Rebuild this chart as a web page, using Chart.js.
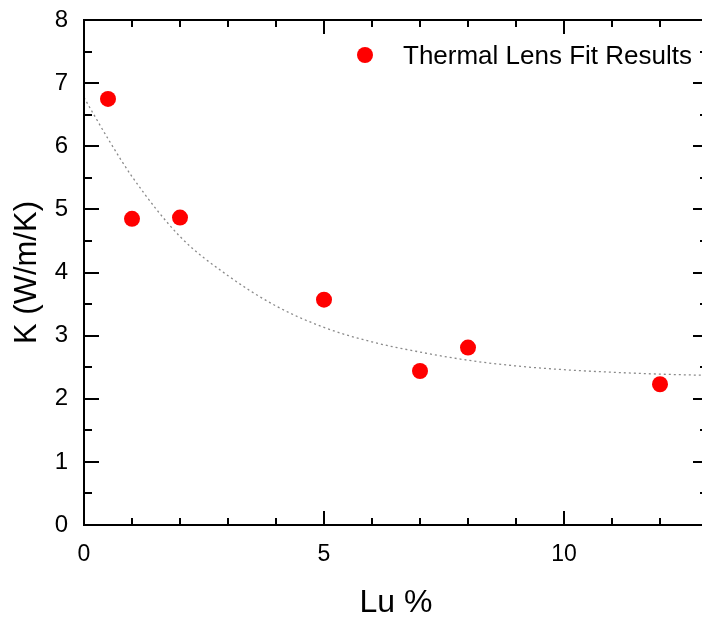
<!DOCTYPE html>
<html>
<head>
<meta charset="utf-8">
<script src="https://cdn.jsdelivr.net/npm/chart.js@4/dist/chart.umd.min.js"></script>
<style>
  html, body { margin: 0; padding: 0; background: #fff; overflow: hidden; }
  #wrap { width: 720px; height: 622px; }
</style>
</head>
<body>
<div id="wrap"><canvas id="c" width="720" height="622"></canvas></div>
<script>
// ---- data ----
const luPercent = [0.5, 1, 2, 5, 7, 8, 12];
const conductivity = [6.75, 4.85, 4.87, 3.57, 2.44, 2.81, 2.23];

const fitX = [0, 0.5, 1, 2, 3, 4, 5, 6, 7, 8, 9, 10, 11, 12, 13];
const fitY = [6.77, 6.12, 5.52, 4.57, 3.95, 3.47, 3.13, 2.90, 2.74, 2.61, 2.52, 2.46, 2.42, 2.39, 2.37];

const xTickValues = [0, 1, 2, 3, 4, 5, 6, 7, 8, 9, 10, 11, 12, 13];
const xTickLabels = ['0', '', '', '', '', '5', '', '', '', '', '10', '', '', ''];
const xMajor = [0, 5, 10];
const yTickValues = [0, 1, 2, 3, 4, 5, 6, 7, 8];
const yTickLabels = ['0', '1', '2', '3', '4', '5', '6', '7', '8'];
const yMinor = [0.5, 1.5, 2.5, 3.5, 4.5, 5.5, 6.5, 7.5];

const seriesLabel = 'Thermal Lens Fit Results';
const xTitle = 'Lu %';
const yTitle = 'K (W/m/K)';

const FONT = "Arial, 'Liberation Sans', Helvetica, sans-serif";

const framePlugin = {
  id: 'frame',
  afterDatasetsDraw(chart) {
    const {ctx, chartArea: a, scales: {x, y}} = chart;
    ctx.save();
    ctx.strokeStyle = '#000';
    ctx.lineWidth = 2;
    ctx.strokeRect(a.left, a.top, a.right - a.left, a.bottom - a.top);
    ctx.beginPath();
    xTickValues.forEach(v => {
      const px = Math.round(x.getPixelForValue(v));
      const len = xMajor.includes(v) ? 14 : 7;
      ctx.moveTo(px, a.bottom); ctx.lineTo(px, a.bottom - len);
      ctx.moveTo(px, a.top); ctx.lineTo(px, a.top + len);
    });
    yTickValues.forEach(v => {
      const py = Math.round(y.getPixelForValue(v));
      ctx.moveTo(a.left, py); ctx.lineTo(a.left + 15, py);
      ctx.moveTo(a.right, py); ctx.lineTo(a.right - 15, py);
    });
    yMinor.forEach(v => {
      const py = Math.round(y.getPixelForValue(v));
      ctx.moveTo(a.left, py); ctx.lineTo(a.left + 8, py);
      ctx.moveTo(a.right, py); ctx.lineTo(a.right - 8, py);
    });
    ctx.stroke();

    // legend
    const ds = chart.data.datasets[0];
    ctx.fillStyle = ds.backgroundColor;
    ctx.beginPath();
    ctx.arc(365, 55, 8, 0, Math.PI * 2);
    ctx.fill();
    ctx.fillStyle = '#000';
    ctx.font = '26px ' + FONT;
    ctx.textBaseline = 'alphabetic';
    ctx.textAlign = 'left';
    ctx.fillText(ds.label, 403, 64);
    ctx.restore();
  }
};

new Chart(document.getElementById('c'), {
  type: 'scatter',
  data: {
    datasets: [
      {
        label: seriesLabel,
        data: luPercent.map((v, i) => ({x: v, y: conductivity[i]})),
        backgroundColor: '#ff0000',
        borderColor: '#ff0000',
        pointRadius: 8,
        pointBorderWidth: 0,
        order: 0
      },
      {
        label: 'fit',
        type: 'line',
        data: fitX.map((v, i) => ({x: v, y: fitY[i]})),
        borderColor: '#8a8a8a',
        borderWidth: 1.3,
        borderDash: [2, 3],
        pointRadius: 0,
        fill: false,
        cubicInterpolationMode: 'monotone',
        order: 1
      }
    ]
  },
  options: {
    responsive: false,
    devicePixelRatio: 1,
    animation: false,
    layout: { padding: { top: 20, right: 12, left: 0, bottom: 0 } },
    plugins: { legend: { display: false }, tooltip: { enabled: false } },
    scales: {
      x: {
        type: 'linear', min: 0, max: 13,
        grid: { display: false, drawTicks: false },
        border: { display: false },
        afterBuildTicks: s => { s.ticks = xTickValues.map(v => ({value: v})); },
        afterFit: s => { s.height = 97; s.paddingLeft = 0; s.paddingRight = 0; },
        ticks: {
          padding: 16,
          color: '#000',
          font: { family: FONT, size: 23 },
          maxRotation: 0,
          autoSkip: false,
          callback: (v) => { const i = xTickValues.indexOf(v); return i >= 0 ? xTickLabels[i] : ''; }
        },
        title: {
          display: true, text: xTitle, color: '#000',
          font: { family: FONT, size: 32 },
          padding: { top: 0, bottom: 0 }
        }
      },
      y: {
        type: 'linear', min: 0, max: 8,
        grid: { display: false, drawTicks: false },
        border: { display: false },
        afterBuildTicks: s => { s.ticks = yTickValues.map(v => ({value: v})); },
        afterFit: s => { s.width = 84; s.paddingTop = 0; s.paddingBottom = 0; },
        ticks: {
          padding: 16,
          color: '#000',
          font: { family: FONT, size: 24 },
          autoSkip: false,
          callback: (v) => { const i = yTickValues.indexOf(v); return i >= 0 ? yTickLabels[i] : ''; }
        },
        title: {
          display: true, text: yTitle, color: '#000',
          font: { family: FONT, size: 31 },
          padding: { top: 9, bottom: 0 }
        }
      }
    }
  },
  plugins: [framePlugin]
});
</script>
</body>
</html>
